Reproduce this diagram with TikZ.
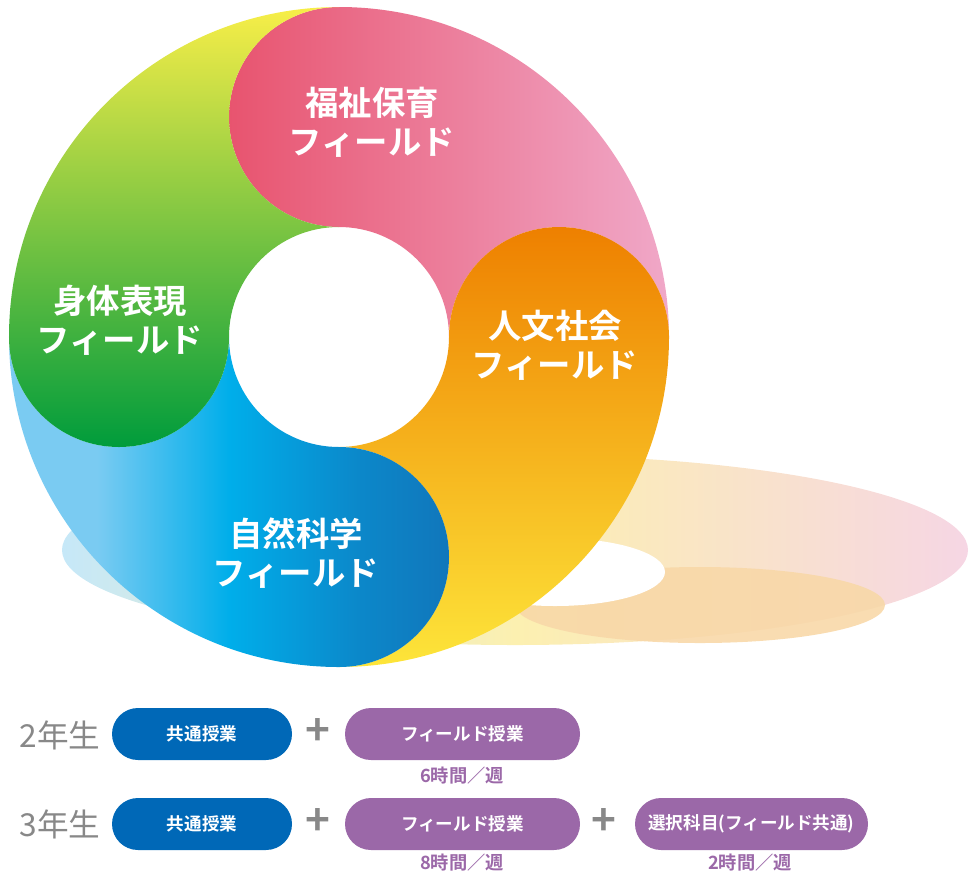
\documentclass[tikz,border=0pt]{standalone}
\usepackage{fontspec}
\setmainfont{Noto Sans CJK JP}[BoldFont=* Bold]
\definecolor{pillblue}{HTML}{0068B7}
\definecolor{pillpurple}{HTML}{9B68A8}
\definecolor{graytxt}{HTML}{888888}
\definecolor{pk1}{HTML}{E8546F}
\definecolor{pk2}{HTML}{F0A8C8}
\definecolor{or1}{HTML}{EE8000}
\definecolor{or2}{HTML}{FDE53A}
\definecolor{bl1}{HTML}{7ACBF2}
\definecolor{bl2}{HTML}{00AEEA}
\definecolor{bl3}{HTML}{1D4D98}
\definecolor{gr1}{HTML}{F8EE48}
\definecolor{gr2}{HTML}{B8D400}
\definecolor{gr3}{HTML}{009C3C}
\definecolor{shb}{HTML}{C6E8F8}
\definecolor{shy}{HTML}{FCF0B0}
\definecolor{shp}{HTML}{F6D6E4}
\definecolor{shpeach}{HTML}{F8D8A8}
\pgfdeclarehorizontalshading{blueshade}{100bp}{color(0bp)=(bl1); color(35bp)=(bl1); color(50bp)=(bl2); color(65bp)=(bl2!60!bl3); color(100bp)=(bl3)}
\begin{document}
\begin{tikzpicture}[x=1cm,y=1cm,
  lab/.style={text=white,font=\bfseries\fontsize{9.5}{11}\selectfont,align=center},
  yr/.style={text=graytxt,font=\fontsize{9}{10}\selectfont},
  pill/.style={rounded corners=0.26cm,minimum height=0.52cm,text=white,font=\bfseries\fontsize{5}{6}\selectfont},
  hrs/.style={text=pillpurple,font=\bfseries\fontsize{5.2}{6}\selectfont},
  plus/.style={text=graytxt,font=\bfseries\fontsize{12}{12}\selectfont}]
\useasboundingbox (0,0) rectangle (9.79,-8.83);
% shadow
\shade[left color=shb,right color=shp,middle color=shy] (5.15,-5.5) ellipse[x radius=4.53,y radius=0.95];
\fill[shpeach,opacity=0.9] (7.0,-6.05) ellipse[x radius=1.85,y radius=0.38];
\fill[white] (5.55,-5.72) ellipse[x radius=1.1,y radius=0.34];
\begin{scope}[shift={(3.39,-3.37)}]
\shade[left color=pk1, right color=pk2] (0,3.3) arc[start angle=90,end angle=0,radius=3.3] arc[start angle=0,end angle=180,radius=1.1] arc[start angle=0,end angle=90,radius=1.1] arc[start angle=-90,end angle=-270,radius=1.1] -- cycle;
\shade[top color=or1, bottom color=or2] (3.3,0) arc[start angle=0,end angle=-90,radius=3.3] arc[start angle=-90,end angle=90,radius=1.1] arc[start angle=-90,end angle=0,radius=1.1] arc[start angle=180,end angle=0,radius=1.1] -- cycle;
\shade[shading=blueshade] (0,-3.3) arc[start angle=-90,end angle=-180,radius=3.3] arc[start angle=180,end angle=360,radius=1.1] arc[start angle=180,end angle=270,radius=1.1] arc[start angle=90,end angle=-90,radius=1.1] -- cycle;
\shade[top color=gr1, middle color=gr2, bottom color=gr3] (-3.3,0) arc[start angle=180,end angle=90,radius=3.3] arc[start angle=90,end angle=270,radius=1.1] arc[start angle=90,end angle=180,radius=1.1] arc[start angle=0,end angle=-180,radius=1.1] -- cycle;
\end{scope}
\node[lab] (f1) at (3.72,-1.22) {福祉保育\\フィールド};
\node[lab] (f2) at (5.55,-3.45) {人文社会\\フィールド};
\node[lab] (f3) at (1.20,-3.20) {身体表現\\フィールド};
\node[lab] (f4) at (2.96,-5.53) {自然科学\\フィールド};
% bottom
\node[yr] (y2) at (0.60,-7.35) {2年生};
\node[pill,fill=pillblue,minimum width=1.8cm] (a1) at (2.02,-7.34) {共通授業};
\node[plus] (p1) at (3.18,-7.32) {+};
\node[pill,fill=pillpurple,minimum width=2.35cm] (b1) at (4.625,-7.34) {フィールド授業};
\node[hrs] (h1) at (4.62,-7.76) {6時間／週};
\node[yr] (y3) at (0.60,-8.24) {3年生};
\node[pill,fill=pillblue,minimum width=1.8cm] (a2) at (2.02,-8.24) {共通授業};
\node[plus] (p2) at (3.18,-8.22) {+};
\node[pill,fill=pillpurple,minimum width=2.35cm] (b2) at (4.625,-8.24) {フィールド授業};
\node[plus] (p3) at (6.04,-8.22) {+};
\node[pill,fill=pillpurple,minimum width=2.33cm] (c2) at (7.515,-8.24) {選択科目(フィールド共通)};
\node[hrs] (h2) at (4.62,-8.63) {8時間／週};
\node[hrs] (h3) at (7.50,-8.63) {2時間／週};
\end{tikzpicture}
\end{document}
